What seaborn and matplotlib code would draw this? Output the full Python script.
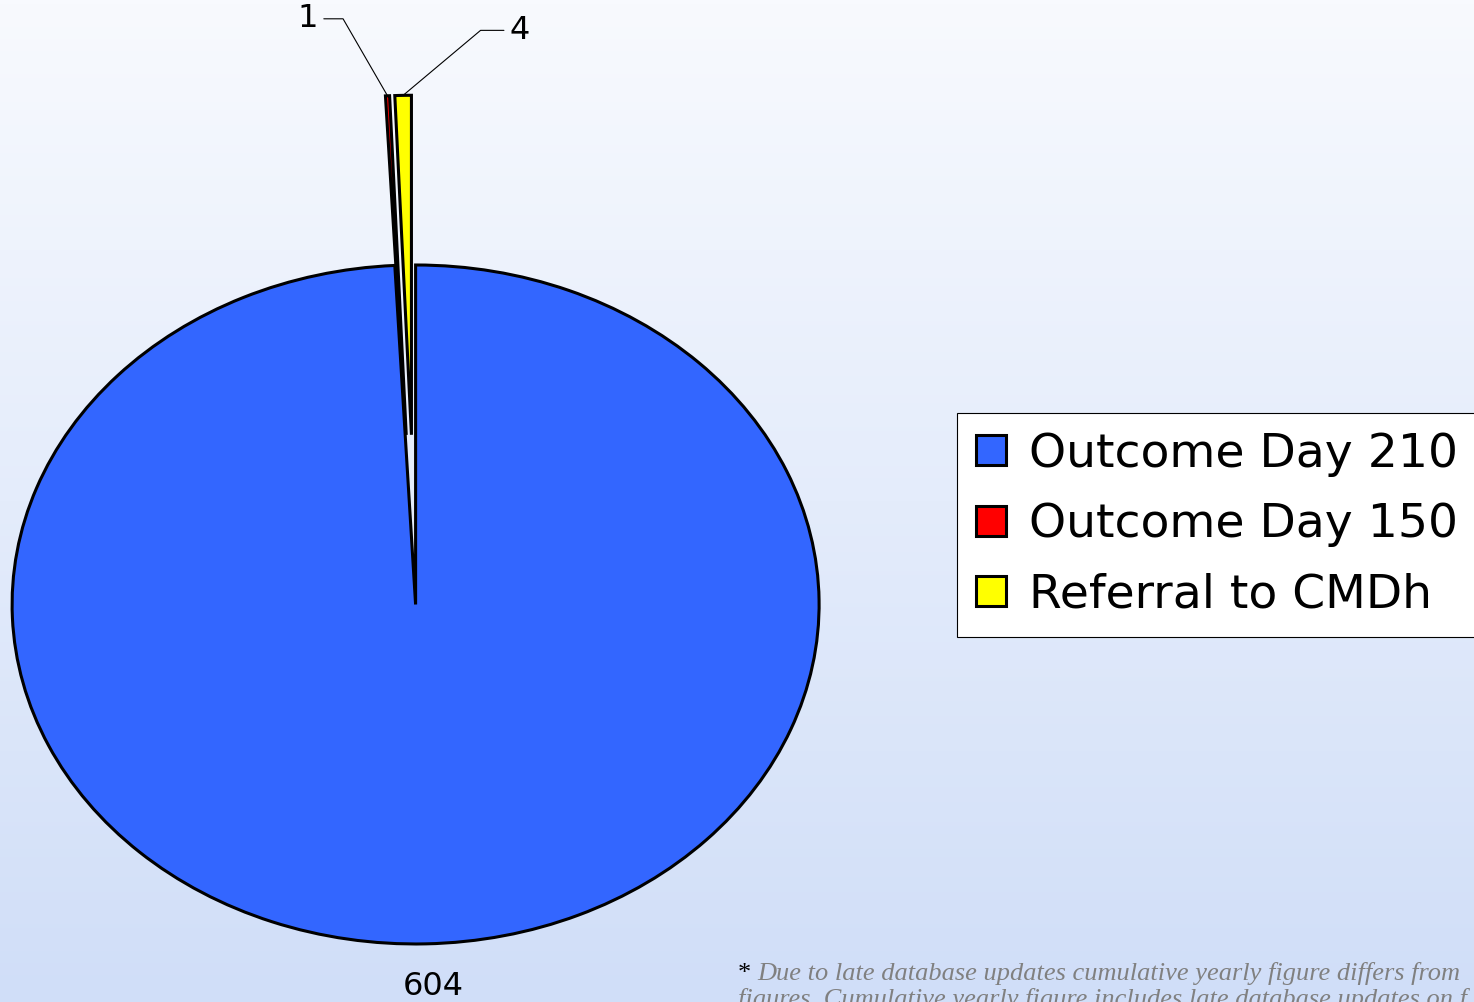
import numpy as np
import matplotlib
matplotlib.use('Agg')
import matplotlib.pyplot as plt
from matplotlib.colors import LinearSegmentedColormap
import seaborn as sns

# données du graphique
labels = ['Outcome Day 210', 'Outcome Day 150', 'Referral to CMDh']
counts = [604, 1, 4]
colors = ['#3366FF', '#FF0000', '#FFFF00']
explode = [0, 0.5, 0.5]
note_star = '*'
note_lines = ['Due to late database updates cumulative yearly figure differs from',
              'figures. Cumulative yearly figure includes late database updates on f']

sns.set_theme(style='white')
plt.rcParams['font.family'] = ['DejaVu Sans']
plt.rcParams['text.color'] = 'black'

W, H = 1474, 1002
fig = plt.figure(figsize=(W / 100, H / 100), dpi=100)

# fond en dégradé
bg = fig.add_axes([0, 0, 1, 1], zorder=-10)
grad = np.linspace(0, 1, 256)[:, None]
cmap = LinearSegmentedColormap.from_list('bg', ['#F8FAFE', '#D0DEF8'])
bg.imshow(grad, aspect='auto', cmap=cmap, extent=[0, 1, 0, 1], origin='upper')
bg.axis('off')

# camembert (ellipse: aspect libre)
ax = fig.add_axes([0.0, 0.0071, 831.2 / W, 987.9 / H])
ax.patch.set_alpha(0)
wedges, texts = ax.pie(counts, colors=colors, explode=explode, startangle=90,
                       counterclock=False, labels=[str(counts[0]), '', ''],
                       labeldistance=1.125,
                       wedgeprops=dict(edgecolor='black', linewidth=2.2),
                       textprops=dict(fontsize=23, color='black'))
ax.set_aspect('auto')
ax.set_xlim(-1.03, 1.03)
ax.set_ylim(-1.15, 1.76)
texts[0].set_ha('left')
texts[0].set_va('center')
texts[0].set_x(texts[0].get_position()[0] - 0.06)

# étiquettes des petites parts avec lignes de rappel
offsets = {1: ((-80, 77), 120), 2: ((117, 65), 40)}
for i, (off, angB) in offsets.items():
    w = wedges[i]
    mid = np.deg2rad((w.theta1 + w.theta2) / 2)
    cx, cy = w.center
    tip = (cx + w.r * np.cos(mid), cy + w.r * np.sin(mid))
    ax.annotate(str(counts[i]), xy=tip, xytext=off, textcoords='offset pixels',
                ha='center', va='center', fontsize=23, color='black',
                arrowprops=dict(arrowstyle='-', color='black', lw=0.8,
                                connectionstyle=f'angle,angleA=0,angleB={angB}',
                                shrinkB=0))

leg = fig.legend(wedges, labels, loc='upper left',
                 bbox_to_anchor=(957 / W, 1 - 413 / H), borderaxespad=0,
                 fontsize=34, handlelength=0.64, handleheight=0.6,
                 handletextpad=0.49, borderpad=0.4, labelspacing=0.54,
                 frameon=True, fancybox=False, framealpha=1, edgecolor='black')
leg.get_frame().set_linewidth(0.8)
leg.get_frame().set_facecolor('white')

fig.text(738 / W, 1 - 980 / H, note_star, fontsize=19, color='black',
         family='Liberation Serif', va='baseline')
fig.text(757 / W, 1 - 980 / H, note_lines[0], fontsize=19, color='#808080',
         family='Liberation Serif', style='italic', va='baseline')
fig.text(738 / W, 1 - 1006 / H, note_lines[1], fontsize=19, color='#808080',
         family='Liberation Serif', style='italic', va='baseline')

fig.savefig('out.png', dpi=100)
